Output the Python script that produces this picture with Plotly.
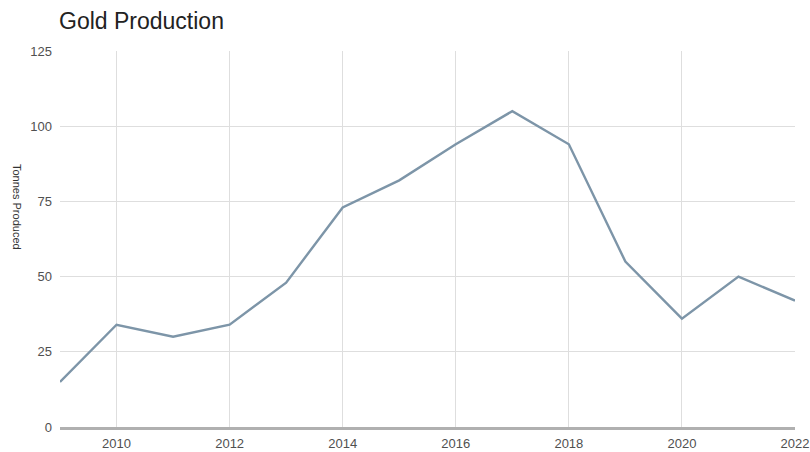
import plotly.graph_objects as go

years = [2009, 2010, 2011, 2012, 2013, 2014, 2015, 2016, 2017, 2018, 2019, 2020, 2021, 2022]
tonnes = [15, 34, 30, 34, 48, 73, 82, 94, 105, 94, 55, 36, 50, 42]
x_ticks = [2010, 2012, 2014, 2016, 2018, 2020, 2022]
y_ticks = [0, 25, 50, 75, 100, 125]

W, H = 810, 452
L, R, T, B = 60, 15, 51, 25
fig = go.Figure()
fig.add_trace(go.Scatter(
    x=years, y=tonnes, mode="lines",
    line=dict(color="#7d95a8", width=2.4),
    showlegend=False, hoverinfo="x+y",
))

tick_font = dict(family="Liberation Sans, Arial, sans-serif", color="#505050", size=13)
fig.update_layout(
    template="none",
    width=W, height=H,
    margin=dict(l=L, r=R, t=T, b=B, autoexpand=False),
    paper_bgcolor="white", plot_bgcolor="white",
    font=dict(family="Liberation Sans, Arial, sans-serif", color="#555", size=11),
    title=dict(text="Gold Production", font=dict(size=23, color="#222"),
               x=59 / W, xanchor="left", xref="container",
               y=1 - 21 / H, yanchor="middle", yref="container"),
    xaxis=dict(range=[2009, 2022], tickvals=x_ticks, ticktext=[str(v) for v in x_ticks],
               showgrid=True, gridcolor="#dedede", gridwidth=1,
               showline=True, linecolor="#b0b0b0", linewidth=2.5,
               zeroline=False, ticks="", ticklabelstandoff=3, automargin=False,
               tickfont=tick_font),
    yaxis=dict(range=[0, 125], tickvals=y_ticks,
               showgrid=True, gridcolor="#dedede", gridwidth=1,
               showline=False, zeroline=False, ticks="", ticklabelstandoff=7, automargin=False,
               tickfont=tick_font),
    annotations=[dict(text="Tonnes Produced", textangle=90,
                      x=(17 - L) / (W - L - R), y=(H - 207 - B) / (H - T - B),
                      xref="paper", yref="paper", showarrow=False,
                      font=dict(size=11, color="#333"), xanchor="center", yanchor="middle")],
)

fig.write_html("out.html")
